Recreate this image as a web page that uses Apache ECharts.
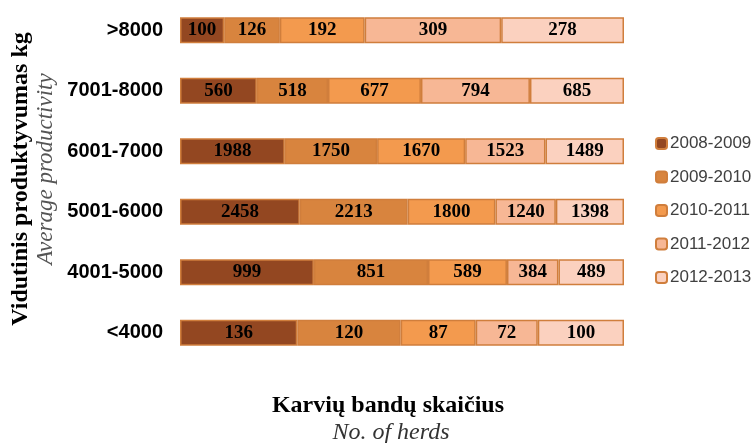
<!DOCTYPE html>
<html>
<head>
<meta charset="utf-8">
<script src="https://cdn.jsdelivr.net/npm/echarts@6/dist/echarts.min.js"></script>
<style>
  html, body { margin: 0; padding: 0; background: #fff; }
  #chart { width: 754px; height: 443px; }
</style>
</head>
<body>
<div id="chart"></div>
<script>
// productivity groups, bottom to top as the category axis draws them
var categories = ['<4000', '4001-5000', '5001-6000', '6001-7000', '7001-8000', '>8000'];
var seasons = ['2008-2009', '2009-2010', '2010-2011', '2011-2012', '2012-2013'];

// number of herds per season
var s2008 = [136, 999, 2458, 1988, 560, 100];
var s2009 = [120, 851, 2213, 1750, 518, 126];
var s2010 = [87, 589, 1800, 1670, 677, 192];
var s2011 = [72, 384, 1240, 1523, 794, 309];
var s2012 = [100, 489, 1398, 1489, 685, 278];

var values = [s2008, s2009, s2010, s2011, s2012];
var colors = ['#934721', '#D8843E', '#F39A4E', '#F7B795', '#FBD1BF'];

var serif = '"Liberation Serif", "Times New Roman", serif';
var sans = '"Liberation Sans", Arial, sans-serif';

// bars are 100% stacked: each row is shown as shares of its own total
var totals = categories.map(function (c, i) {
  var t = 0;
  values.forEach(function (arr) { t += arr[i]; });
  return t;
});

var chart = echarts.init(document.getElementById('chart'));

var series = seasons.map(function (name, k) {
  return {
    name: name,
    type: 'bar',
    stack: 'all',
    barWidth: 26,
    itemStyle: {
      color: colors[k],
      borderColor: '#D07E3C',
      borderWidth: 1.5
    },
    label: {
      show: true,
      position: 'inside',
      color: '#000',
      fontFamily: serif,
      fontWeight: 'bold',
      fontSize: 19,
      formatter: function (p) { return values[k][p.dataIndex]; }
    },
    data: values[k].map(function (v, i) { return v / totals[i] * 100; })
  };
});

chart.setOption({
  animation: false,
  grid: {
    left: 180,
    right: 130,
    top: -5,
    bottom: 80
  },
  legend: {
    orient: 'vertical',
    left: 655,
    top: 135,
    padding: 0,
    itemWidth: 11,
    itemHeight: 11,
    itemGap: 16.5,
    data: seasons,
    textStyle: {
      fontFamily: sans,
      fontSize: 17,
      color: '#404040',
      padding: [0, 0, 0, -2]
    }
  },
  xAxis: {
    type: 'value',
    min: 0,
    max: 100,
    show: false
  },
  yAxis: {
    type: 'category',
    data: categories,
    axisLine: { show: false },
    axisTick: { show: false },
    axisLabel: {
      margin: 17,
      color: '#000',
      fontFamily: sans,
      fontWeight: 'bold',
      fontSize: 20
    }
  },
  graphic: [
    {
      type: 'text',
      x: 21, y: 179,
      rotation: Math.PI / 2,
      style: {
        text: 'Vidutinis produktyvumas kg',
        fill: '#000',
        font: 'bold 24px ' + serif,
        align: 'center',
        verticalAlign: 'middle'
      }
    },
    {
      type: 'text',
      x: 46, y: 169,
      rotation: Math.PI / 2,
      style: {
        text: 'Average productivity',
        fill: '#555',
        font: 'italic 23px ' + serif,
        align: 'center',
        verticalAlign: 'middle'
      }
    },
    {
      type: 'text',
      x: 388, y: 406,
      style: {
        text: 'Karvių bandų skaičius',
        fill: '#000',
        font: 'bold 24px ' + serif,
        align: 'center',
        verticalAlign: 'middle'
      }
    },
    {
      type: 'text',
      x: 391, y: 433,
      style: {
        text: 'No. of herds',
        fill: '#333',
        font: 'italic 24px ' + serif,
        align: 'center',
        verticalAlign: 'middle'
      }
    }
  ],
  series: series
});
</script>
</body>
</html>
